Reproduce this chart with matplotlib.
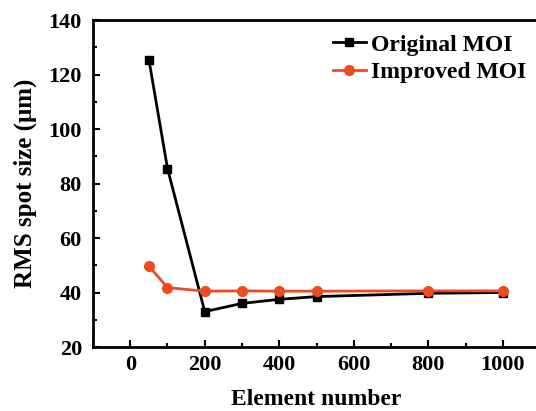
import matplotlib
matplotlib.use('Agg')
import matplotlib.pyplot as plt
from matplotlib.ticker import MultipleLocator

plt.rcParams['font.family'] = ['Liberation Serif', 'DejaVu Serif']
plt.rcParams['font.weight'] = 'bold'

# data
elements = [50, 100, 200, 300, 400, 500, 800, 1000]
original = [125.5, 85.5, 33.0, 36.0, 37.5, 38.5, 39.7, 40.0]
improved = [49.7, 41.8, 40.5, 40.6, 40.5, 40.5, 40.6, 40.6]

fig = plt.figure(figsize=(5.36, 4.11), dpi=100)
ax = fig.add_axes([0.1735, 0.1557, 0.834, 0.7956])

ax.plot(elements, original, color='black', lw=2, marker='s', ms=6, label='Original MOI')
ax.plot(elements, improved, color='#EE4B22', lw=2, marker='o', ms=7, label='Improved MOI')

ax.set_xlim(-100, 1100)
ax.set_ylim(20, 140)
ax.xaxis.set_major_locator(MultipleLocator(200))
ax.xaxis.set_minor_locator(MultipleLocator(100))
ax.yaxis.set_major_locator(MultipleLocator(20))
ax.yaxis.set_minor_locator(MultipleLocator(10))
ax.tick_params(which='both', direction='in', width=1.5, labelsize=16)
ax.tick_params(which='major', length=5)
ax.tick_params(which='minor', length=3)
ax.tick_params(axis='y', pad=8)
ax.tick_params(axis='x', pad=6)
for s in ax.spines.values():
    s.set_linewidth(2)

ax.set_xlabel('Element number', fontsize=17, fontweight='bold', labelpad=10)
ax.set_ylabel('RMS spot size (\u03bcm)', fontsize=18, fontweight='bold', labelpad=8)

ax.legend(loc='upper right', frameon=False, fontsize=17, handlelength=1.4,
          handletextpad=0.2, borderaxespad=0.2, labelspacing=0.25,
          bbox_to_anchor=(1.0, 1.0))

fig.savefig('out.png', dpi=100)
